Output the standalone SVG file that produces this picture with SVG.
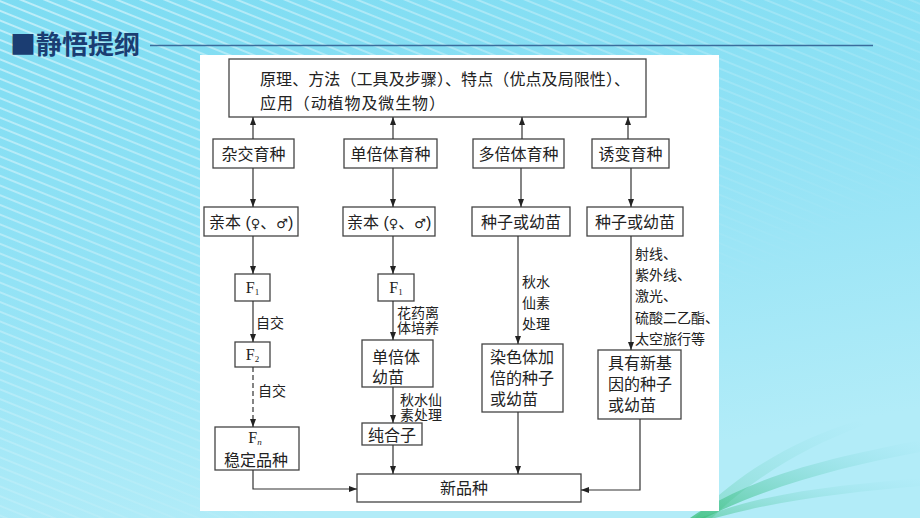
<svg xmlns="http://www.w3.org/2000/svg" width="920" height="518" viewBox="0 0 920 518">
<defs>
<linearGradient id="bg" x1="0" y1="0" x2="0.3" y2="1">
<stop offset="0" stop-color="#7ddcf2"/>
<stop offset="0.5" stop-color="#92e2f5"/>
<stop offset="1" stop-color="#b2ecf8"/>
</linearGradient>
<pattern id="stripes" width="9" height="9" patternUnits="userSpaceOnUse" patternTransform="rotate(22)">
<rect x="0" y="0" width="9" height="2" fill="#ffffff"/>
</pattern>
<linearGradient id="fade" x1="0" y1="0" x2="1" y2="1">
<stop offset="0" stop-color="#fff" stop-opacity="0.5"/>
<stop offset="0.45" stop-color="#fff" stop-opacity="0.18"/>
<stop offset="0.7" stop-color="#fff" stop-opacity="0"/>
</linearGradient>
<mask id="m"><rect width="920" height="518" fill="url(#fade)"/></mask>
<linearGradient id="green" x1="0" y1="1" x2="1" y2="0">
<stop offset="0" stop-color="#3cbf7a" stop-opacity="0.9"/>
<stop offset="1" stop-color="#7fd8e8" stop-opacity="0"/>
</linearGradient>
<marker id="ah" viewBox="0 0 8 6" refX="8" refY="3" markerWidth="8" markerHeight="6" markerUnits="userSpaceOnUse" orient="auto">
<path d="M0,0 L8,3 L0,6 Z" fill="#222"/>
</marker>
<style>
.box{fill:#fff;stroke:#444;stroke-width:1.3}
.t{font-family:"Liberation Sans","Noto Sans CJK SC","DejaVu Sans",sans-serif;font-size:16px;fill:#222}
.c{text-anchor:middle}
.lab{font-family:"Liberation Sans","Noto Sans CJK SC",sans-serif;font-size:14px;fill:#222}
.f{font-family:"Liberation Serif",serif;font-size:16px;fill:#222;text-anchor:middle}
.sym{font-family:"DejaVu Sans",sans-serif;font-size:13px}
.ln{fill:none;stroke:#333;stroke-width:1.2}
.ar{marker-end:url(#ah)}
</style>
</defs>
<rect width="920" height="518" fill="url(#bg)"/>
<rect width="920" height="518" fill="url(#stripes)" mask="url(#m)"/>
<path d="M690,518 C760,470 850,455 920,440 L920,452 C850,465 770,485 705,518 Z" fill="url(#green)" opacity="0.85"/>
<path d="M700,518 C770,490 850,485 920,478 L920,486 C850,492 780,500 715,518 Z" fill="url(#green)" opacity="0.55"/>
<path d="M695,518 C730,480 790,440 860,420 L865,425 C800,448 745,485 712,518 Z" fill="url(#green)" opacity="0.4"/>

<g id="title">
<text x="10" y="54" font-family="Noto Sans CJK SC,sans-serif" font-size="26" font-weight="bold" fill="#1b3d72">■静悟提纲</text>
<line x1="150" y1="45.5" x2="873" y2="45.5" stroke="#3a6c9c" stroke-width="1.5"/>
</g>

<rect x="200" y="55" width="519" height="456" fill="#fff"/>

<g id="top">
<rect class="box" x="229" y="59" width="417" height="58"/>
<text class="t" font-size="15.4"><tspan x="260" y="85" textLength="370" lengthAdjust="spacing">原理、方法（工具及步骤）、特点（优点及局限性）、</tspan><tspan x="260" y="109" textLength="185" lengthAdjust="spacing">应用（动植物及微生物）</tspan></text>
</g>

<g id="n-zajiao"><rect class="box" x="213" y="139" width="81" height="29"/><text class="t c" x="253.5" y="159.5">杂交育种</text></g>
<g id="n-danbei"><rect class="box" x="344" y="139" width="93" height="29"/><text class="t c" x="390.5" y="159.5">单倍体育种</text></g>
<g id="n-duobei"><rect class="box" x="473" y="139" width="91" height="29"/><text class="t c" x="518.5" y="159.5">多倍体育种</text></g>
<g id="n-youbian"><rect class="box" x="592" y="139" width="77" height="29"/><text class="t c" x="630.5" y="159.5">诱变育种</text></g>

<g id="n-qinben1"><rect class="box" x="204" y="207" width="94" height="29"/><text class="t" x="209" y="227.5">亲本 (<tspan class="sym">♀</tspan>、<tspan class="sym">♂</tspan>)</text></g>
<g id="n-qinben2"><rect class="box" x="343" y="207" width="92" height="29"/><text class="t" x="347" y="227.5">亲本 (<tspan class="sym">♀</tspan>、<tspan class="sym">♂</tspan>)</text></g>
<g id="n-zhongzi3"><rect class="box" x="472" y="207" width="98" height="29"/><text class="t c" x="521" y="227.5">种子或幼苗</text></g>
<g id="n-zhongzi4"><rect class="box" x="587" y="207" width="96" height="29"/><text class="t c" x="635" y="227.5">种子或幼苗</text></g>

<g id="n-f1a"><rect class="box" x="235" y="274" width="35" height="27"/><text class="f" x="252.5" y="293">F<tspan font-size="9" dy="2">1</tspan></text></g>
<g id="n-f1b"><rect class="box" x="378" y="274" width="36" height="27"/><text class="f" x="396" y="293">F<tspan font-size="9" dy="2">1</tspan></text></g>
<g id="n-f2"><rect class="box" x="235" y="342" width="35" height="25"/><text class="f" x="252.5" y="360">F<tspan font-size="9" dy="2">2</tspan></text></g>
<g id="n-fn"><rect class="box" x="215" y="427" width="84" height="43"/><text class="f" x="255" y="443">F<tspan font-size="9" font-style="italic" dy="2">n</tspan></text><text class="t c" x="256" y="465.5">稳定品种</text></g>

<g id="n-danbeiyoumiao"><rect class="box" x="362" y="340" width="71" height="47"/><text class="t" font-size="16.5"><tspan x="372" y="362.5">单倍体</tspan><tspan x="372" y="382.5">幼苗</tspan></text></g>
<g id="n-chunhezi"><rect class="box" x="362" y="423" width="60" height="22"/><text class="t" x="368" y="440.5" font-size="16.5">纯合子</text></g>
<g id="n-ranseti"><rect class="box" x="482" y="344" width="81" height="68"/><text class="t" font-size="16.5"><tspan x="490" y="363">染色体加</tspan><tspan x="490" y="384">倍的种子</tspan><tspan x="490" y="405">或幼苗</tspan></text></g>
<g id="n-juyou"><rect class="box" x="598" y="350" width="83" height="69"/><text class="t" font-size="16.5"><tspan x="608" y="369">具有新基</tspan><tspan x="608" y="390">因的种子</tspan><tspan x="608" y="411">或幼苗</tspan></text></g>
<g id="n-xinpinzhong"><rect class="box" x="357" y="474" width="224" height="28"/><text class="t c" x="464" y="494">新品种</text></g>

<g id="connectors">
<line class="ln ar" x1="253" y1="139" x2="253" y2="117"/>
<line class="ln ar" x1="393" y1="139" x2="393" y2="117"/>
<line class="ln ar" x1="522" y1="139" x2="522" y2="117"/>
<line class="ln ar" x1="628" y1="139" x2="628" y2="117"/>
<line class="ln ar" x1="253" y1="168" x2="253" y2="207"/>
<line class="ln ar" x1="393" y1="168" x2="393" y2="207"/>
<line class="ln ar" x1="521" y1="168" x2="521" y2="207"/>
<line class="ln ar" x1="631" y1="168" x2="631" y2="207"/>
<line class="ln ar" x1="253" y1="236" x2="253" y2="274"/>
<line class="ln ar" x1="393" y1="236" x2="393" y2="274"/>
<line class="ln ar" x1="253" y1="301" x2="253" y2="342"/>
<line class="ln ar" x1="253" y1="367" x2="253" y2="427" stroke-dasharray="5,3"/>
<polyline class="ln ar" points="253,470 253,489 357,489"/>
<line class="ln ar" x1="393" y1="301" x2="393" y2="340"/>
<line class="ln ar" x1="393" y1="387" x2="393" y2="423"/>
<line class="ln ar" x1="393" y1="445" x2="393" y2="474"/>
<line class="ln ar" x1="518" y1="236" x2="518" y2="344"/>
<line class="ln ar" x1="518" y1="412" x2="518" y2="474"/>
<line class="ln ar" x1="631" y1="236" x2="631" y2="350"/>
<polyline class="ln ar" points="640,419 640,490 581,490"/>
<text class="lab" x="256" y="328">自交</text>
<text class="lab" x="258" y="396">自交</text>
<text class="lab" font-size="13.5"><tspan x="397" y="317.5">花药离</tspan><tspan x="397" y="333">体培养</tspan></text>
<text class="lab" font-size="13.5"><tspan x="400" y="404.5">秋水仙</tspan><tspan x="400" y="420">素处理</tspan></text>
<text class="lab"><tspan x="522" y="287">秋水</tspan><tspan x="522" y="308">仙素</tspan><tspan x="522" y="329">处理</tspan></text>
<text class="lab"><tspan x="635" y="259">射线、</tspan><tspan x="635" y="280">紫外线、</tspan><tspan x="635" y="301">激光、</tspan><tspan x="635" y="323">硫酸二乙酯、</tspan><tspan x="635" y="344">太空旅行等</tspan></text>
</g>
</svg>
